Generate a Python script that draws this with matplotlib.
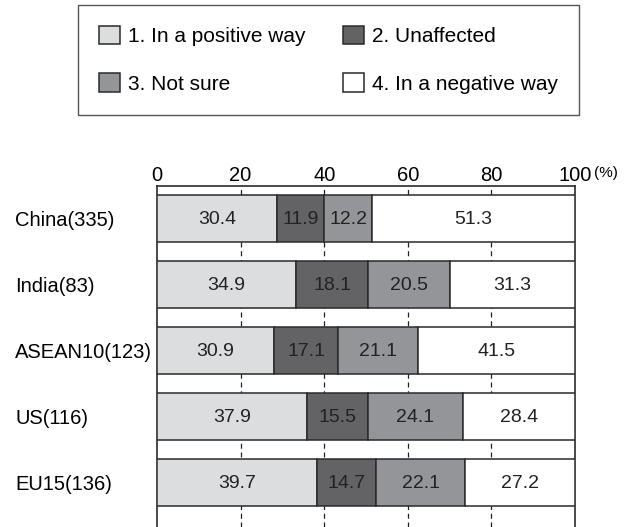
"""
Stacked bar chart: expected effect by region.
"""
import numpy as np
from matplotlib import pyplot as plt
from matplotlib.patches import Patch
from matplotlib.transforms import blended_transform_factory

plt.rcParams['font.family'] = ['Liberation Sans', 'DejaVu Sans']

regions = ['China(335)', 'India(83)', 'ASEAN10(123)', 'US(116)', 'EU15(136)']
series = ['1. In a positive way', '2. Unaffected', '3. Not sure',
          '4. In a negative way']
positive = [30.4, 34.9, 30.9, 37.9, 39.7]
unaffected = [11.9, 18.1, 17.1, 15.5, 14.7]
not_sure = [12.2, 20.5, 21.1, 24.1, 22.1]
negative = [51.3, 31.3, 41.5, 28.4, 27.2]
colors = ['#dcdddf', '#636366', '#949599', '#ffffff']
ticks = [0, 20, 40, 60, 80, 100]

edge = '#2a2a2a'
fig = plt.figure(figsize=(6.32, 5.27), dpi=100)
ax = fig.add_axes([157 / 632, 0, 418 / 632, 1 - 186 / 527])

vals = np.array([positive, unaffected, not_sure, negative])
# bars are drawn scaled to 100 %, labels show the raw shares
widths = vals / vals.sum(axis=0) * 100
y = np.arange(len(regions))
left = np.zeros(len(regions))
for k in range(len(series)):
    ax.barh(y, widths[k], left=left, height=0.71, color=colors[k],
            edgecolor=edge, linewidth=1.1, zorder=3)
    for i in range(len(regions)):
        ax.text(left[i] + widths[k][i] / 2, y[i] + 0.01, f'{vals[k][i]:.1f}',
                ha='center', va='center', fontsize=14, color='#222222',
                zorder=4)
    left += widths[k]

ax.set_xlim(0, 100)
ax.set_ylim(4.67, -0.49)
ax.set_yticks(y)
ax.set_yticklabels(regions, fontsize=14.5, ha='left')
ax.tick_params(axis='y', length=0, pad=102)
ax.xaxis.tick_top()
ax.set_xticks(ticks)
ax.set_xticklabels([str(t) for t in ticks], fontsize=14.5)
ax.tick_params(axis='x', length=0, pad=0.5)
for t in ticks[1:-1]:
    ax.axvline(t, color='#222222', linewidth=0.9, linestyle=(0, (4, 3)),
               zorder=1)
for s in ['top', 'left', 'right']:
    ax.spines[s].set_linewidth(1.2)
    ax.spines[s].set_color(edge)
ax.spines['bottom'].set_visible(False)
trans = blended_transform_factory(ax.transData, ax.transAxes)
ax.text(104.6, 1.037, '(%)', transform=trans, fontsize=11,
        ha='left', va='center')

handles = [Patch(facecolor=colors[k], edgecolor=edge, linewidth=1.1)
           for k in range(len(series))]
order = [0, 2, 1, 3]
leg = fig.legend([handles[k] for k in order], [series[k] for k in order],
                 ncol=2, loc='upper left',
                 bbox_to_anchor=(78 / 632, 1 - 5 / 527),
                 borderaxespad=0, fontsize=15,
                 handlelength=1.0, handleheight=1.0, handletextpad=0.4,
                 labelspacing=1.3, borderpad=1.0, columnspacing=1.8,
                 fancybox=False, edgecolor='#555555', framealpha=1)
leg.get_frame().set_linewidth(1.0)

fig.savefig('out.png', dpi=100)
